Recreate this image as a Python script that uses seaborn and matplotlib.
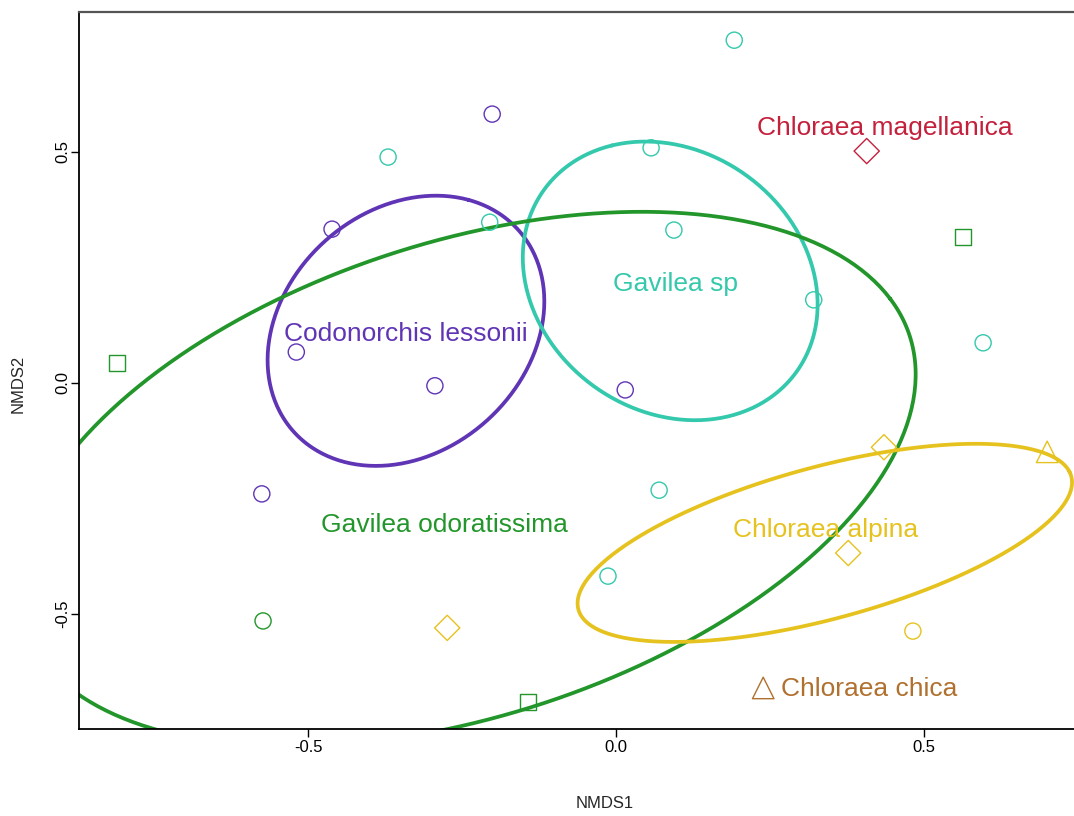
import numpy as np
import pandas as pd
import matplotlib
matplotlib.use("Agg")
import matplotlib.pyplot as plt
import seaborn as sns

# site scores
nmds1 = [-0.201, -0.461, -0.519, -0.294, 0.015, -0.575,
         0.192, -0.370, 0.057, -0.205, 0.094, 0.321, 0.596, 0.070, -0.013,
         -0.810, 0.563, -0.143, -0.573,
         0.435, 0.377, -0.274, 0.482, 0.700,
         0.407,
         0.239]
nmds2 = [0.582, 0.333, 0.067, -0.006, -0.015, -0.240,
         0.742, 0.489, 0.509, 0.348, 0.331, 0.180, 0.087, -0.232, -0.418,
         0.043, 0.316, -0.690, -0.515,
         -0.139, -0.368, -0.530, -0.537, -0.149,
         0.502,
         -0.660]
species = ["Codonorchis lessonii"] * 6 + ["Gavilea sp"] * 9 + \
          ["Gavilea odoratissima"] * 4 + ["Chloraea alpina"] * 5 + \
          ["Chloraea magellanica", "Chloraea chica"]
shapes = ["o"] * 6 + ["o"] * 9 + ["s", "s", "s", "o"] + \
         ["D", "D", "D", "o", "^"] + ["D", "^"]

# ordiellipse parameters (centre, semi-axes, rotation in degrees)
ell_species = ["Codonorchis lessonii", "Gavilea sp", "Gavilea odoratissima", "Chloraea alpina"]
ell_cx = [-0.341, 0.088, -0.244, 0.339]
ell_cy = [0.113, 0.221, -0.208, -0.346]
ell_a = [0.301, 0.308, 0.792, 0.426]
ell_b = [0.213, 0.231, 0.491, 0.160]
ell_angle = [70.4, 107.9, 29.5, 21.2]

# group labels
lab_text = ["Codonorchis lessonii", "Gavilea sp", "Chloraea magellanica",
            "Gavilea odoratissima", "Chloraea alpina", "Chloraea chica"]
lab_x = [-0.342, 0.096, 0.436, -0.278, 0.341, 0.268]
lab_y = [0.106, 0.214, 0.552, -0.307, -0.318, -0.662]

palette = {
    "Codonorchis lessonii": "#6035b5",
    "Gavilea sp": "#34c8ac",
    "Gavilea odoratissima": "#22962a",
    "Chloraea alpina": "#e6c21f",
    "Chloraea magellanica": "#c4203c",
    "Chloraea chica": "#b0702e",
}
marker_size = {"o": 135, "s": 140, "D": 165, "^": 240}

df = pd.DataFrame({"NMDS1": nmds1, "NMDS2": nmds2, "species": species, "shape": shapes})

sns.set_theme(style="white")
plt.rcParams["font.family"] = ["Liberation Sans", "DejaVu Sans"]

fig = plt.figure(figsize=(10.74, 8.16), dpi=100)
ax = fig.add_axes([79 / 1074, 87 / 816, 1006 / 1074, 717 / 816])

# ellipses
t = np.linspace(0, 2 * np.pi, 400)
for sp, cx, cy, a, b, ang in zip(ell_species, ell_cx, ell_cy, ell_a, ell_b, ell_angle):
    th = np.deg2rad(ang)
    ex = cx + a * np.cos(t) * np.cos(th) - b * np.sin(t) * np.sin(th)
    ey = cy + a * np.cos(t) * np.sin(th) + b * np.sin(t) * np.cos(th)
    ax.plot(ex, ey, color=palette[sp], lw=2.7, zorder=2)

# open markers
for m, size in marker_size.items():
    sub = df[df["shape"] == m]
    sns.scatterplot(data=sub, x="NMDS1", y="NMDS2", hue="species", palette=palette,
                    marker=m, s=size, linewidth=1.0, legend=False, ax=ax, zorder=3)
for coll in ax.collections:
    fc = coll.get_facecolors()
    coll.set_edgecolors(fc)
    coll.set_facecolors("none")

for txt, x, y in zip(lab_text, lab_x, lab_y):
    ha = "left" if txt == "Chloraea chica" else "center"
    ax.text(x, y, txt, color=palette[txt], fontsize=19, ha=ha, va="center", zorder=4)

ax.set_xlim(-0.8718, 0.7614)
ax.set_ylim(-0.7489, 0.8030)
ax.set_xticks([-0.5, 0.0, 0.5])
ax.set_xticklabels(["-0.5", "0.0", "0.5"])
ax.set_yticks([-0.5, 0.0, 0.5])
ax.set_yticklabels(["-0.5", "0.0", "0.5"], rotation=90, va="center")
ax.tick_params(axis="both", direction="out", length=6, width=1, labelsize=12,
               colors="black", bottom=True, left=True)
ax.tick_params(axis="x", pad=2)
ax.tick_params(axis="y", pad=0.5)

ax.set_xlabel("NMDS1", fontsize=12)
ax.set_ylabel("NMDS2", fontsize=12)
ax.xaxis.set_label_coords(0.523, -0.094)
ax.yaxis.set_label_coords(-0.053, 0.481)

for side in ["left", "bottom"]:
    ax.spines[side].set_color("black")
    ax.spines[side].set_linewidth(1.3)
ax.spines["top"].set_color("#555555")
ax.spines["top"].set_linewidth(1.6)
ax.spines["right"].set_visible(False)

fig.savefig("out.png", dpi=100)
